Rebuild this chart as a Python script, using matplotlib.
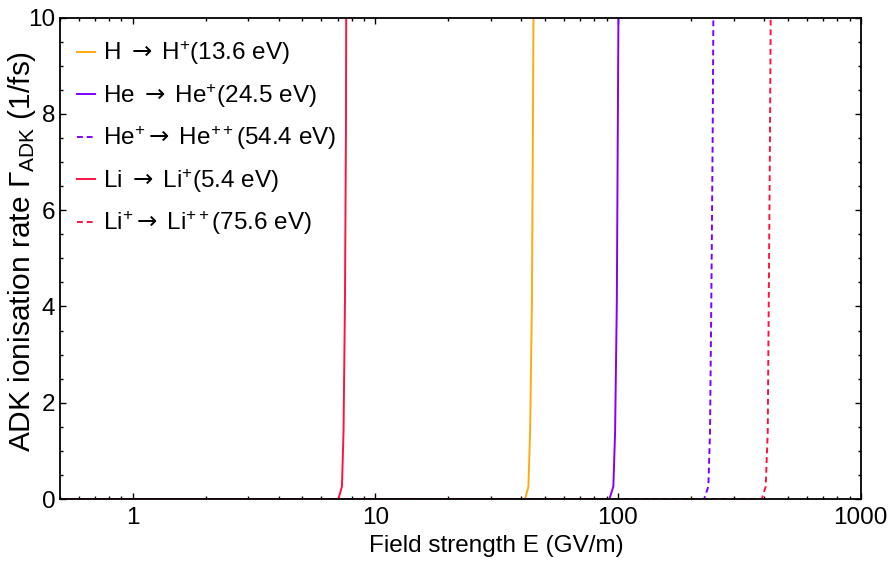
import matplotlib
matplotlib.use("Agg")
import matplotlib.pyplot as plt
from matplotlib.ticker import MultipleLocator, LogLocator, NullFormatter, FixedLocator, FixedFormatter

plt.rcParams['font.family'] = ['Liberation Sans', 'DejaVu Sans']
plt.rcParams['mathtext.fontset'] = 'custom'
plt.rcParams['mathtext.rm'] = 'Liberation Sans'
plt.rcParams['mathtext.it'] = 'Liberation Sans:italic'
plt.rcParams['mathtext.bf'] = 'Liberation Sans:bold'
plt.rcParams['mathtext.sf'] = 'DejaVu Sans'
plt.rcParams['mathtext.default'] = 'regular'

# Data: field strength (GV/m) and ADK rate (1/fs)
R_pts = [0, 0, 0.26, 1.4, 4.1, 7.6, 10.0]
E_H = [0.5, 41.4, 42.75, 43.45, 44.2, 44.6, 44.85]
R_H = R_pts
E_He = [0.5, 92.2, 95.7, 97.3, 98.9, 99.8, 100.4]
R_He = R_pts
E_Hep = [0.5, 226.3, 235.7, 239.4, 242.4, 245.6, 247.1]
R_Hep = R_pts
E_Li = [0.5, 7.05, 7.29, 7.40, 7.50, 7.57, 7.59]
R_Li = R_pts
E_Lip = [0.5, 391.2, 406, 414, 418, 423, 425.7]
R_Lip = R_pts

ARR = r"$\mathsf{\rightarrow}\;$"
labels = [
    "H " + ARR + "H$^{+}$(13.6 eV)",
    "He " + ARR + "He$^{+}$(24.5 eV)",
    "He$^{+}$" + ARR + "He$^{++}$(54.4 eV)",
    "Li " + ARR + "Li$^{+}$(5.4 eV)",
    "Li$^{+}$" + ARR + "Li$^{++}$(75.6 eV)",
]
x_ticks = [1, 10, 100, 1000]
x_ticklabels = ["1", "10", "100", "1000"]

orange = "#FFAA11"
purple = "#8000FF"
red = "#FF1144"

fig = plt.figure(figsize=(8.96, 5.63), dpi=100)
ax = fig.add_axes([59.5/896, 1-499/563, (860.7-59.5)/896, (499-17.7)/563])

ax.plot(E_H, R_H, color=orange, lw=1.4, label=labels[0])
ax.plot(E_He, R_He, color=purple, lw=1.4, label=labels[1])
ax.plot(E_Hep, R_Hep, color=purple, lw=1.4, ls=(0, (3, 2)), label=labels[2])
ax.plot(E_Li, R_Li, color=red, lw=1.4, label=labels[3])
ax.plot(E_Lip, R_Lip, color=red, lw=1.4, ls=(0, (3, 2)), label=labels[4])

ax.set_xscale('log')
ax.set_xlim(0.5, 1000)
ax.set_ylim(0, 10)
ax.xaxis.set_major_locator(FixedLocator(x_ticks))
ax.xaxis.set_major_formatter(FixedFormatter(x_ticklabels))
ax.xaxis.set_minor_locator(LogLocator(base=10, subs=range(2, 10)))
ax.xaxis.set_minor_formatter(NullFormatter())
ax.yaxis.set_major_locator(MultipleLocator(2))
ax.yaxis.set_minor_locator(MultipleLocator(0.5))

ax.tick_params(which='both', direction='in', top=True, right=True, labelsize=17.5, width=1.0)
ax.tick_params(which='major', length=4)
ax.tick_params(which='minor', length=2.5)
ax.tick_params(axis='x', pad=6)
ax.tick_params(axis='y', pad=3)
for s in ax.spines.values():
    s.set_linewidth(1.3)

ax.set_xlabel("Field strength E (GV/m)", fontsize=17.5)
ax.xaxis.set_label_coords(0.545, -0.075)
ax.set_ylabel("ADK ionisation rate \u0393$_{\\mathrm{ADK}}$ (1/fs)", fontsize=21.5)
ax.yaxis.set_label_coords(-0.027, 0.515)

leg = ax.legend(loc='upper left', frameon=False, fontsize=17.5, handlelength=0.75,
                handletextpad=0.3, labelspacing=0.6, borderaxespad=0.0,
                bbox_to_anchor=(0.01, 0.975))

fig.savefig("out.png", dpi=100)
